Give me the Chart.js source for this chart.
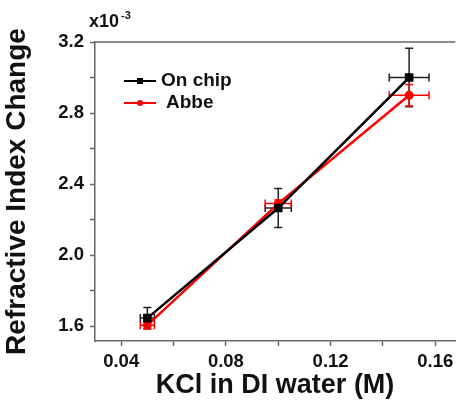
<!DOCTYPE html>
<html>
<head>
<meta charset="utf-8">
<script src="https://cdn.jsdelivr.net/npm/chart.js@4.4.1/dist/chart.umd.min.js"></script>
<style>
  html, body { margin: 0; padding: 0; background: #fff; overflow: hidden; }
  canvas { display: block; }
</style>
</head>
<body>
<canvas id="kcl_chart" width="462" height="402"></canvas>
<script>
// KCl concentration (M)
const concentrations = [0.05, 0.10, 0.15];
// refractive index change, in units of 1e-3
const onChip = [1.645, 2.265, 3.00];
const abbe = [1.605, 2.29, 2.90];
// error bars
const onChipYErr = [0.06, 0.11, 0.165];
const onChipXErr = [0.0027, 0.005, 0.0076];
const abbeYErr = [0.02, 0.02, 0.06];
const abbeXErr = [0.0027, 0.005, 0.0076];
// axis ticks
const xTicks = [0.04, 0.06, 0.08, 0.10, 0.12, 0.14, 0.16];
const xLabels = [0.04, 0.08, 0.12, 0.16];
const yTicks = [1.6, 1.8, 2.0, 2.2, 2.4, 2.6, 2.8, 3.0, 3.2];
const yLabels = [1.6, 2.0, 2.4, 2.8, 3.2];

const axisColor = '#666666';
const fam = 'Liberation Sans, Arial, sans-serif';
const labelFont = { family: fam, size: 18.5, weight: 'bold' };

function isLabel(list, v) {
    return list.some(l => Math.abs(l - v) < 1e-6);
}

const errorBars = {
    id: 'errorBars',
    beforeDatasetsDraw(chart) {
        const ctx = chart.ctx;
        const x = chart.scales.x, y = chart.scales.y;
        chart.data.datasets.forEach(ds => {
            ctx.save();
            ctx.strokeStyle = ds.errColor;
            ctx.lineWidth = 1.5;
            ds.data.forEach((p, i) => {
                const px = x.getPixelForValue(p.x), py = y.getPixelForValue(p.y);
                const y0 = y.getPixelForValue(p.y - ds.yErr[i]);
                const y1 = y.getPixelForValue(p.y + ds.yErr[i]);
                const x0 = x.getPixelForValue(p.x - ds.xErr[i]);
                const x1 = x.getPixelForValue(p.x + ds.xErr[i]);
                ctx.beginPath();
                ctx.moveTo(px, y0); ctx.lineTo(px, y1);
                ctx.moveTo(px - 4, y0); ctx.lineTo(px + 4, y0);
                ctx.moveTo(px - 4, y1); ctx.lineTo(px + 4, y1);
                ctx.moveTo(x0, py); ctx.lineTo(x1, py);
                ctx.moveTo(x0, py - 4); ctx.lineTo(x0, py + 4);
                ctx.moveTo(x1, py - 4); ctx.lineTo(x1, py + 4);
                ctx.stroke();
            });
            ctx.restore();
        });
    },
    afterDraw(chart) {
        const ctx = chart.ctx;
        const a = chart.chartArea;
        ctx.save();
        // top frame line
        ctx.strokeStyle = axisColor;
        ctx.lineWidth = 1.5;
        ctx.beginPath();
        ctx.moveTo(a.left, a.top); ctx.lineTo(a.right, a.top);
        ctx.stroke();
        // exponent label
        ctx.fillStyle = '#111';
        ctx.font = 'bold 18px ' + fam;
        ctx.textBaseline = 'alphabetic';
        ctx.fillText('x10', 89, 27);
        ctx.font = 'bold 11px ' + fam;
        ctx.fillText('-3', 121, 19);
        // legend
        const items = chart.data.datasets;
        items.forEach((ds, i) => {
            const ly = 81 + i * 22;
            ctx.strokeStyle = ds.borderColor;
            ctx.lineWidth = 2;
            ctx.beginPath();
            ctx.moveTo(124, ly); ctx.lineTo(156, ly);
            ctx.stroke();
            ctx.fillStyle = ds.borderColor;
            if (ds.pointStyle === 'rect') {
                ctx.fillRect(137, ly - 3, 6, 6);
            } else {
                ctx.beginPath();
                ctx.arc(140, ly, 3, 0, Math.PI * 2);
                ctx.fill();
            }
            ctx.fillStyle = '#111';
            ctx.font = 'bold 19px ' + fam;
            ctx.textBaseline = 'middle';
            ctx.fillText(ds.label, i === 0 ? 161 : 166, ly);
        });
        ctx.restore();
    }
};

const myChart = new Chart(document.getElementById('kcl_chart'), {
    type: 'line',
    data: {
        datasets: [{
            label: 'On chip',
            data: concentrations.map((c, i) => ({ x: c, y: onChip[i] })),
            yErr: onChipYErr,
            xErr: onChipXErr,
            errColor: '#222222',
            borderColor: '#000000',
            backgroundColor: '#000000',
            borderWidth: 2.5,
            pointStyle: 'rect',
            pointRadius: 4.3,
            pointHoverRadius: 4.3
        }, {
            label: 'Abbe',
            data: concentrations.map((c, i) => ({ x: c, y: abbe[i] })),
            yErr: abbeYErr,
            xErr: abbeXErr,
            errColor: '#ff0000',
            borderColor: '#ff0000',
            backgroundColor: '#ff0000',
            borderWidth: 2.5,
            pointStyle: 'circle',
            pointRadius: 3.2,
            pointHoverRadius: 3.2
        }]
    },
    options: {
        responsive: false,
        animation: false,
        layout: { padding: { top: 42, right: 1, left: 0, bottom: 0 } },
        plugins: {
            legend: { display: false },
            tooltip: { enabled: false }
        },
        scales: {
            x: {
                type: 'linear',
                min: 0.030,
                max: 0.1676,
                afterBuildTicks: scale => { scale.ticks = xTicks.map(v => ({ value: v })); },
                afterFit: scale => { scale.height = 61; scale.paddingLeft = 0; scale.paddingRight = 0; },
                border: { color: axisColor, width: 1.5 },
                grid: { drawOnChartArea: false, tickLength: 5, color: axisColor, tickWidth: 1.5 },
                ticks: {
                    color: '#111',
                    font: labelFont,
                    padding: 5,
                    maxRotation: 0,
                    autoSkip: false,
                    callback: v => isLabel(xLabels, v) ? v.toFixed(2) : ''
                },
                title: {
                    display: true,
                    text: 'KCl in DI water (M)',
                    color: '#111',
                    font: { family: fam, size: 27, weight: 'bold' },
                    padding: { top: 2, bottom: 0 }
                }
            },
            y: {
                type: 'linear',
                min: 1.516,
                max: 3.2,
                afterBuildTicks: scale => { scale.ticks = yTicks.map(v => ({ value: v })); },
                afterFit: scale => { scale.width = 95; scale.paddingTop = 0; scale.paddingBottom = 0; },
                border: { color: axisColor, width: 1.5 },
                grid: { drawOnChartArea: false, tickLength: 5, color: axisColor, tickWidth: 1.5 },
                ticks: {
                    color: '#111',
                    font: labelFont,
                    padding: 6,
                    autoSkip: false,
                    callback: v => isLabel(yLabels, v) ? v.toFixed(1) : ''
                },
                title: {
                    display: true,
                    text: 'Refractive Index Change',
                    color: '#111',
                    font: { family: fam, size: 28, weight: 'bold' },
                    padding: { top: 0, bottom: 0 }
                }
            }
        }
    },
    plugins: [errorBars]
});
</script>
</body>
</html>
